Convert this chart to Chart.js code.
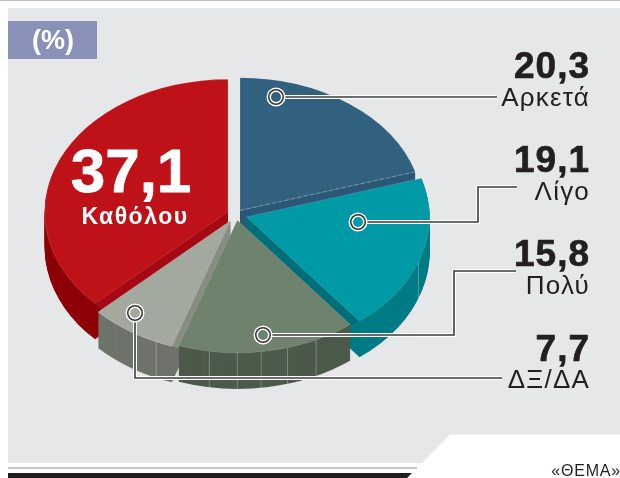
<!DOCTYPE html>
<html>
<head>
<meta charset="utf-8">
<style>html,body{margin:0;padding:0;background:#fff}canvas{display:block}</style>
<script src="https://cdn.jsdelivr.net/npm/chart.js@4"></script>
</head>
<body>
<canvas id="c" width="620" height="478"></canvas>
<script>
// Data, clockwise from the top
const categories = ['Αρκετά', 'Λίγο', 'Πολύ', 'ΔΞ/ΔΑ', 'Καθόλου'];
const values = [20.3, 19.1, 15.8, 7.7, 37.1];
const valueLabels = ['20,3', '19,1', '15,8', '7,7', '37,1'];
const unitLabel = '(%)';
const sourceLabel = '«ΘΕΜΑ»';

// Styles
const topColors = ['#326180', '#009aa6', '#6f826d', '#a3a99e', '#be1218'];
const wallColors = ['#2b5876', '#007b85', '#4c5a4a', '#6e736b', '#8c0006'];
const edgeColors = ['#2b5876', '#006f79', '#4c5a4a', '#888d84', '#a60a14'];
const explode = [7, 11, 8, 10, 9];
const paintOrder = [0, 4, 1, 3, 2];
const TILT = 0.725, DEPTH = 36, RADIUS = 183;
const FONT = '"Liberation Sans", Arial, sans-serif';

// Seam lines on the outer walls: slice index, degrees clockwise from the top
const seams = [[2, 188.8], [2, 180], [2, 172.5], [2, 164.1], [2, 154.5], [1, 110], [3, 204]];

// Callouts: ring first, then the leader's path
const callouts = [
  {cat: 0, path: [[276, 97], [497, 97]]},
  {cat: 1, path: [[358, 222], [478, 222], [478, 187], [517, 187]]},
  {cat: 2, path: [[263, 335], [454, 335], [454, 271], [516, 271]]},
  {cat: 3, path: [[135, 313], [135, 378], [502, 378]]}
];
const sideLabels = [
  {cat: 0, valueY: 78, labelY: 106},
  {cat: 1, valueY: 172, labelY: 200},
  {cat: 2, valueY: 266, labelY: 294},
  {cat: 3, valueY: 361, labelY: 388}
];

const pie3d = {
  id: 'pie3d',
  beforeDraw(chart) {
    const ctx = chart.ctx;
    ctx.save();
    ctx.fillStyle = '#fff';
    ctx.fillRect(0, 0, 620, 478);
    ctx.fillStyle = '#bcbcbc';
    ctx.fillRect(0, 0, 620, 1);
    ctx.fillStyle = '#e6e7e9';
    ctx.beginPath();
    ctx.moveTo(8, 8); ctx.lineTo(620, 8); ctx.lineTo(620, 434.5); ctx.lineTo(450, 434.5);
    ctx.lineTo(422, 463); ctx.lineTo(8, 463); ctx.closePath(); ctx.fill();
    ctx.fillStyle = '#c8c8c8';
    ctx.fillRect(8, 467, 409, 2);
    ctx.fillStyle = '#1f1d1e';
    ctx.beginPath();
    ctx.moveTo(8, 473); ctx.lineTo(412, 473); ctx.lineTo(407, 478); ctx.lineTo(8, 478); ctx.closePath(); ctx.fill();
    ctx.fillStyle = '#8a91b9';
    ctx.fillRect(8, 21, 89, 38);
    ctx.restore();
  },
  beforeDatasetsDraw(chart) {
    const ctx = chart.ctx;
    const arcs = chart.getDatasetMeta(0).data;
    const cx = arcs[0].x, cy = arcs[0].y;
    paintOrder.forEach(i => {
      const arc = arcs[i], base = arc.options;
      const mid = (arc.startAngle + arc.endAngle) / 2;
      const ox = Math.cos(mid) * explode[i], oy = Math.sin(mid) * explode[i];
      const squash = (dy, fn) => {
        ctx.save();
        ctx.translate(cx + ox, cy + oy * TILT + dy);
        ctx.scale(1, TILT);
        ctx.translate(-cx, -cy);
        fn();
        ctx.restore();
      };
      const paint = (color, stroke) => {
        arc.options = {...base, backgroundColor: color, borderColor: stroke || color, borderWidth: stroke ? 0.7 : 0};
        arc.draw(ctx);
        arc.options = base;
      };
      for (let d = DEPTH; d > 0; d--) squash(d, () => paint(wallColors[i]));
      ctx.save();
      ctx.beginPath();
      ctx.ellipse(cx + ox, cy + oy * TILT, RADIUS, RADIUS * TILT, 0, 0, Math.PI * 2);
      ctx.clip();
      for (let d = DEPTH; d > 0; d--) squash(d, () => paint(edgeColors[i]));
      ctx.restore();
      // seams on the wall
      ctx.strokeStyle = 'rgba(255,255,255,0.28)';
      ctx.lineWidth = 1;
      seams.filter(s => s[0] === i).forEach(s => {
        const a = (s[1] - 90) * Math.PI / 180;
        const px = cx + ox + Math.cos(a) * RADIUS, py = cy + (oy + Math.sin(a) * RADIUS) * TILT;
        ctx.beginPath(); ctx.moveTo(px, py); ctx.lineTo(px, py + DEPTH); ctx.stroke();
      });
      squash(0, () => paint(topColors[i], 'rgba(255,255,255,0.22)'));
      if (i === 0) {
        const a = arc.endAngle;
        ctx.save();
        ctx.strokeStyle = 'rgba(255,255,255,0.35)';
        ctx.lineWidth = 0.8;
        ctx.setLineDash([4, 2.5]);
        ctx.beginPath();
        ctx.moveTo(cx + ox, cy + oy * TILT);
        ctx.lineTo(cx + ox + Math.cos(a) * RADIUS, cy + (oy + Math.sin(a) * RADIUS) * TILT);
        ctx.stroke();
        ctx.restore();
      }
    });
    return false;
  },
  afterDraw(chart) {
    const ctx = chart.ctx;
    ctx.save();
    // leaders
    callouts.forEach(c => {
      const line = () => {
        ctx.beginPath();
        c.path.forEach((p, k) => k ? ctx.lineTo(p[0], p[1]) : ctx.moveTo(p[0], p[1]));
        ctx.stroke();
      };
      ctx.lineJoin = 'miter';
      ctx.strokeStyle = '#fff'; ctx.lineWidth = 4; line();
      ctx.strokeStyle = '#3c3c3c'; ctx.lineWidth = 1.6; line();
      const [rx, ry] = c.path[0];
      const ring = (r, col) => { ctx.fillStyle = col; ctx.beginPath(); ctx.arc(rx, ry, r, 0, Math.PI * 2); ctx.fill(); };
      ring(9.5, '#fff'); ring(8, '#333'); ring(6.5, '#fff');
      ring(5, topColors[c.cat]);
    });
    // texts
    const heavy = (text, x, y, w) => {
      ctx.fillText(text, x, y);
      ctx.strokeStyle = ctx.fillStyle;
      ctx.lineWidth = w;
      ctx.lineJoin = 'round';
      ctx.strokeText(text, x, y);
    };
    ctx.textBaseline = 'alphabetic';
    ctx.fillStyle = '#231f20';
    ctx.textAlign = 'right';
    sideLabels.forEach(s => {
      ctx.font = 'bold 37px ' + FONT;
      ctx.letterSpacing = '1px';
      heavy(valueLabels[s.cat], 590, s.valueY, 0.7);
      ctx.font = '26px ' + FONT;
      ctx.letterSpacing = '1.2px';
      ctx.fillText(categories[s.cat], 590, s.labelY);
    });
    ctx.font = '16px ' + FONT;
    ctx.letterSpacing = '0.8px';
    ctx.fillText(sourceLabel, 621, 476);
    ctx.fillStyle = '#fff';
    ctx.textAlign = 'center';
    ctx.letterSpacing = '0px';
    ctx.font = 'bold 27px ' + FONT;
    ctx.fillText(unitLabel, 53, 49);
    ctx.font = 'bold 62px ' + FONT;
    heavy(valueLabels[4], 131, 192, 0.8);
    ctx.font = 'bold 23px ' + FONT;
    ctx.letterSpacing = '1.5px';
    ctx.fillText(categories[4], 135, 224);
    ctx.restore();
  }
};

new Chart(document.getElementById('c'), {
  type: 'pie',
  data: {
    labels: categories,
    datasets: [{
      data: values,
      backgroundColor: topColors,
      borderWidth: 0
    }]
  },
  options: {
    responsive: false,
    animation: false,
    radius: RADIUS,
    layout: {padding: {left: 0, top: 0, right: 148, bottom: 49}},
    plugins: {legend: {display: false}, tooltip: {enabled: false}}
  },
  plugins: [pie3d]
});
</script>
</body>
</html>
